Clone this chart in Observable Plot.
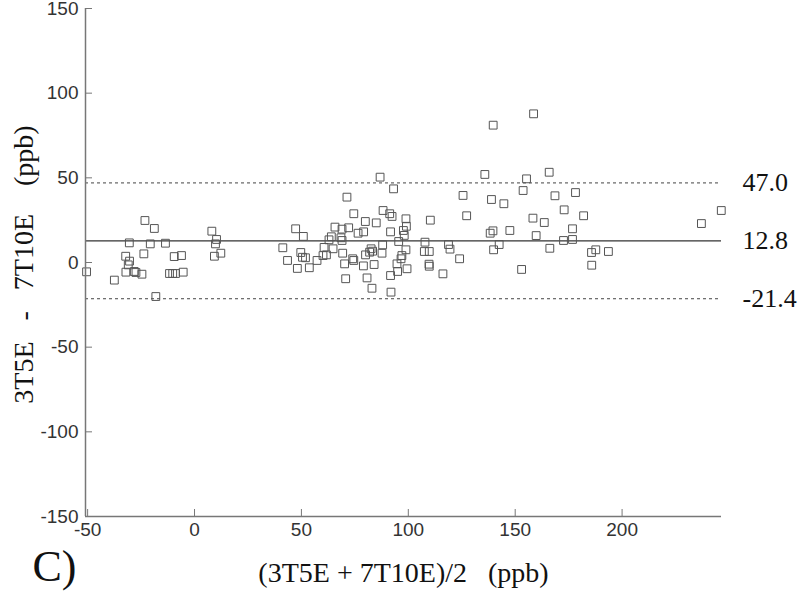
<!DOCTYPE html>
<html>
<head>
<meta charset="utf-8">
<script src="https://cdn.jsdelivr.net/npm/d3@7"></script>
<script src="https://cdn.jsdelivr.net/npm/@observablehq/plot@0.6"></script>
<style>
  html, body { margin: 0; padding: 0; background: #fff; }
</style>
</head>
<body>
<div id="chart"></div>
<script>
// Bland–Altman data: mean of methods (x) and difference (y), ppb
const meanVals = [-50.5, -37.5, -32.2, -30.4, -31, -32.1, -30.5, -28.2, -27.4, -24.6, -23.7, -23.2, -18.8, -20.7, -18.1, -13.6, -9.5, -6.1, -11.7, -10.2, -8.9, -5.3, 8.1, 10.3, 9.8, 9.3, 12.3,
  41.3, 47.3, 50.9, 43.5, 49.7, 50.5, 51.9, 48.1, 53.7, 57.3, 60.6, 60.1, 61.7, 62.9, 64, 64.8, 65.7, 69, 72.1, 68.5, 69, 69.3, 71.3, 70.2, 70.7, 74.5, 74, 74.5, 76.5, 79.1, 79.9, 79, 80.7, 83, 82.6, 83.3, 81.9, 85, 80, 84, 86.8, 87.7, 88, 88.2, 91.3, 92.4, 93.1, 91.7, 91.7, 91.9, 94.7, 95, 95.5, 97.7, 98.1, 98.9, 99.1, 97, 96.6, 98.9, 99.4,
  107.8, 107.5, 109.8, 109.7, 109.8, 110.3, 116.2, 118.8, 119.5, 124, 125.6, 127.3, 135.8, 139.7, 138.9, 138.3, 139.6, 139.9, 142.5, 144.7, 147.5, 153, 153.7, 155.3, 158.6, 158.3, 159.8, 163.6, 166.2, 165.9, 168.6, 172.9, 172.6, 176.8, 176.8, 178.2, 182, 185.7, 187.7, 185.8, 193.6, 237.1, 246.4];
const diffVals = [-5.5, -10.4, 3.7, 0.8, -1.4, -5.7, 11.6, -5.3, -5.9, -6.9, 5.1, 24.8, 20.1, 11, -20.1, 11.4, 3.5, 4.1, -6.5, -6.5, -6.5, -5.7, 18.5, 13.6, 11, 3.7, 5.5,
  8.7, 19.9, 15.4, 1.2, 5.9, 3.1, 2.8, -3.5, -3.1, 1.2, 8.9, 4.1, 4.5, 13.4, 15.2, 8.1, 20.9, 19.7, 20.5, 14.6, 13, 5.5, 38.6, -0.8, -9.6, 28.8, 2.2, 1.2, 17.3, 18.1, 24.2, -2, -9.1, -15.2, 8.1, 6.7, 6.1, 23.4, 4.5, -1.2, 50.4, 5.5, 10.4, 30.7, 28.8, 27.2, 43.5, 18.1, -7.7, -17.5, -0.8, -5.3, 12.4, 18.9, 16, 25.8, 21.4, 4.1, 2.2, 7.5, -3.7,
  12, 6.5, 6.5, -1, -2.2, 25, -6.7, 10.6, 7.9, 2.2, 39.6, 27.6, 52, 81.1, 37.2, 17.3, 18.7, 7.5, 10.6, 34.7, 18.9, -4.1, 42.5, 49.4, 87.8, 26.2, 15.9, 23.6, 8.4, 53.3, 39.4, 31.1, 13, 13.6, 19.9, 41.3, 27.6, 5.9, 7.5, -1.6, 6.5, 23, 30.7];

const meanDiff = 12.8;
const limitVals = [47.0, -21.4];
const lineLabels = ["47.0", "12.8", "-21.4"];
const lineLabelVals = [47.0, 12.8, -21.4];

const xDomain = [-51, 246.5];
const yDomain = [-150, 150];
const xTicks = [-50, 0, 50, 100, 150, 200];
const yTicks = [-150, -100, -50, 0, 50, 100, 150];

const yLabel = "3T5E\u00A0\u00A0\u00A0-\u00A0\u00A0\u00A07T10E\u00A0\u00A0\u00A0\u00A0(ppb)";
const xLabel = "(3T5E + 7T10E)/2\u00A0\u00A0\u00A0(ppb)";
const panelLabel = "C)";

const points = meanVals.map((m, i) => ({m, d: diffVals[i]}));
const labelRows = lineLabels.map((t, i) => ({t, v: lineLabelVals[i]}));

const serif = "'Liberation Serif', 'Times New Roman', serif";
const sans = "'Liberation Sans', Arial, sans-serif";
const hyphenFmt = d => String(d);

const chart = Plot.plot({
  width: 800,
  height: 591,
  marginLeft: 85,
  marginRight: 79,
  marginTop: 8,
  marginBottom: 75,
  style: {background: "#fff", overflow: "visible"},
  x: {domain: xDomain, axis: null},
  y: {domain: yDomain, axis: null},
  marks: [
    Plot.ruleY([meanDiff], {stroke: "#333", strokeWidth: 1.2}),
    Plot.ruleY(limitVals, {stroke: "#444", strokeWidth: 1, strokeDasharray: "3,3"}),
    Plot.dot(points, {x: "m", y: "d", symbol: "square", r: 4.4, stroke: "#555", strokeWidth: 1, fill: "none"}),
    Plot.ruleX([xDomain[0]], {stroke: "#777", strokeWidth: 1.5}),
    Plot.ruleY([yDomain[0]], {stroke: "#777", strokeWidth: 1.5}),
    Plot.axisY(yTicks, {anchor: "left", tickSize: -7, tickPadding: 14, tickFormat: hyphenFmt, stroke: "#777", fill: "#333", fontSize: 19, fontFamily: sans, label: null}),
    Plot.axisX(xTicks, {anchor: "bottom", tickSize: -7, tickPadding: 13, tickFormat: hyphenFmt, stroke: "#777", fill: "#333", fontSize: 19, fontFamily: sans, label: null}),
    Plot.text(labelRows, {y: "v", text: "t", frameAnchor: "right", textAnchor: "start", dx: 21, fontSize: 26, fontFamily: serif, fill: "#111"}),
    Plot.text([yLabel], {text: d => d, frameAnchor: "left", textAnchor: "middle", lineAnchor: "middle", rotate: -90, dx: -61, dy: 2, fontSize: 28, fontFamily: serif, fill: "#111"}),
    Plot.text([xLabel], {text: d => d, frameAnchor: "bottom", textAnchor: "middle", lineAnchor: "middle", dy: 57, fontSize: 28, fontFamily: serif, fill: "#111"}),
    Plot.text([panelLabel], {text: d => d, frameAnchor: "bottom-left", textAnchor: "start", lineAnchor: "middle", dx: -53, dy: 50, fontSize: 44, fontFamily: serif, fill: "#111"})
  ]
});
document.getElementById("chart").appendChild(chart);
</script>
</body>
</html>
